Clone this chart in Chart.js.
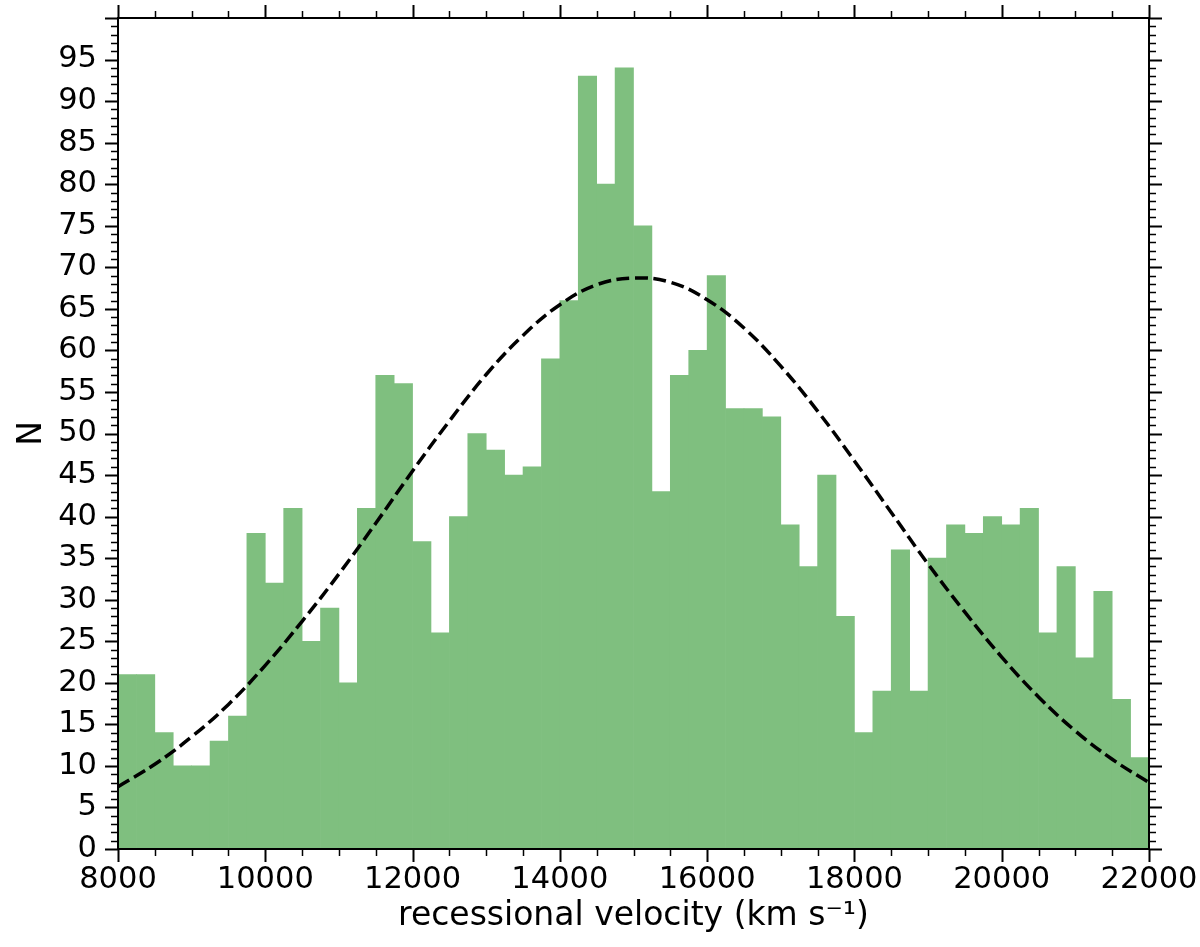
<!DOCTYPE html>
<html lang="en">
<head>
<meta charset="UTF-8">
<title>Recessional velocity histogram</title>
<script src="https://cdn.jsdelivr.net/npm/chart.js"></script>
<style>
  body { margin: 0; background: #fff; }
  #wrap { width: 1200px; height: 947px; }
</style>
</head>
<body>
<div id="wrap"><canvas id="histChart" width="1200" height="947"></canvas></div>
<script>
// bin centres (km/s), 250 km/s wide bins from 8000 to 22000
const binCentres = [
  8125, 8375, 8625, 8875, 9125, 9375, 9625, 9875,
  10125, 10375, 10625, 10875, 11125, 11375, 11625, 11875,
  12125, 12375, 12625, 12875, 13125, 13375, 13625, 13875,
  14125, 14375, 14625, 14875, 15125, 15375, 15625, 15875,
  16125, 16375, 16625, 16875, 17125, 17375, 17625, 17875,
  18125, 18375, 18625, 18875, 19125, 19375, 19625, 19875,
  20125, 20375, 20625, 20875, 21125, 21375, 21625, 21875
];
// counts per bin
const binCounts = [
  21, 21, 14, 10, 10, 13, 16, 38,
  32, 41, 25, 29, 20, 41, 57, 56,
  37, 26, 40, 50, 48, 45, 46, 59,
  66, 93, 80, 94, 75, 43, 57, 60,
  69, 53, 53, 52, 39, 34, 45, 28,
  14, 19, 36, 19, 35, 39, 38, 40,
  39, 41, 26, 34, 23, 31, 18, 11
];
// dashed fit curve
const curveVel = [
  8000, 8500, 9000, 9500, 10000, 10500, 11000, 11500, 12000, 12500,
  13000, 13500, 14000, 14500, 15000, 15500, 16000, 16500, 17000, 17500,
  18000, 18500, 19000, 19500, 20000, 20500, 21000, 21500, 22000
];
const curveN = [
  7.5, 10.2, 13.5, 17.4, 22.1, 27.4, 33.1, 39.2, 45.5, 51.5,
  57.1, 61.8, 65.5, 67.9, 68.7, 68.2, 66.1, 62.7, 58.1, 52.7,
  46.7, 40.5, 34.3, 28.5, 23.1, 18.3, 14.2, 10.8, 8.0
];
const xTickLabels = ['8000', '10000', '12000', '14000', '16000', '18000', '20000', '22000'];
const yTickLabels = ['0', '5', '10', '15', '20', '25', '30', '35', '40', '45',
                     '50', '55', '60', '65', '70', '75', '80', '85', '90', '95'];

const FONT = 'DejaVu Sans';

// matplotlib style frame + major/minor ticks on all four sides
const frameTicks = {
  id: 'frameTicks',
  afterDraw(chart) {
    const { ctx, chartArea: a } = chart;
    const xs = chart.scales.x, ys = chart.scales.y;
    ctx.save();
    ctx.strokeStyle = '#000';
    ctx.lineCap = 'butt';
    // x ticks every 500, major every 2000
    for (let v = 8000; v <= 22000; v += 500) {
      const px = Math.round(xs.getPixelForValue(v)) + 0.5;
      const major = v % 2000 === 0;
      const len = major ? 13 : 7;
      ctx.lineWidth = major ? 2 : 1.5;
      ctx.beginPath();
      ctx.moveTo(px, a.bottom); ctx.lineTo(px, a.bottom + len);
      ctx.moveTo(px, a.top); ctx.lineTo(px, a.top - len);
      ctx.stroke();
    }
    // y ticks every 1, major every 5
    for (let v = 0; v <= 100; v += 1) {
      const py = Math.round(ys.getPixelForValue(v)) + 0.5;
      const major = v % 5 === 0;
      const len = major ? 13 : 7;
      ctx.lineWidth = major ? 2 : 1.5;
      ctx.beginPath();
      ctx.moveTo(a.left, py); ctx.lineTo(a.left - len, py);
      ctx.moveTo(a.right, py); ctx.lineTo(a.right + len, py);
      ctx.stroke();
    }
    ctx.lineWidth = 2;
    ctx.strokeRect(a.left, a.top, a.right - a.left, a.bottom - a.top);
    ctx.restore();
  }
};

// grid kept "on" only so the tick length counts in label placement; the marks themselves come from the plugin
const hiddenGrid = { display: true, drawOnChartArea: false, drawTicks: true, tickLength: 13, tickColor: 'rgba(0,0,0,0)' };

const ctx = document.getElementById('histChart').getContext('2d');
const histChart = new Chart(ctx, {
  type: 'bar',
  data: {
    datasets: [
      {
        type: 'line',
        data: curveVel.map((v, i) => ({ x: v, y: curveN[i] })),
        borderColor: '#000',
        borderWidth: 3.5,
        borderDash: [13, 5.5],
        pointRadius: 0,
        tension: 0.4,
        fill: false,
        order: 0
      },
      {
        type: 'bar',
        data: binCentres.map((v, i) => ({ x: v, y: binCounts[i] })),
        backgroundColor: '#7fbf7f',
        borderWidth: 0,
        barPercentage: 1,
        categoryPercentage: 1,
        order: 1
      }
    ]
  },
  options: {
    responsive: false,
    animation: false,
    layout: { padding: { top: 18, right: 51, left: 0, bottom: 0 } },
    plugins: {
      legend: { display: false },
      tooltip: { enabled: false }
    },
    scales: {
      x: {
        type: 'linear',
        offset: false,
        min: 8000,
        max: 22000,
        grid: hiddenGrid,
        border: { display: false },
        ticks: {
          stepSize: 2000,
          padding: 0,
          color: '#000',
          maxRotation: 0,
          font: { family: FONT, size: 30.5 },
          callback: (v) => xTickLabels.includes(String(v)) ? String(v) : ''
        },
        title: {
          display: true,
          text: 'recessional velocity (km s\u207B\u00B9)',
          color: '#000',
          font: { family: FONT, size: 33 },
          padding: { top: 0, bottom: 11 }
        },
        afterFit: (s) => { s.height = 98; }
      },
      y: {
        min: 0,
        max: 100,
        grid: hiddenGrid,
        border: { display: false },
        ticks: {
          stepSize: 5,
          padding: 8,
          color: '#000',
          font: { family: FONT, size: 30.5 },
          callback: (v) => yTickLabels.includes(String(v)) ? String(v) : ''
        },
        title: {
          display: true,
          text: 'N',
          color: '#000',
          font: { family: FONT, size: 33 },
          padding: { top: 13, bottom: 0 }
        },
        afterFit: (s) => {
          s.width = 118;
          // don't let the label half-heights push the plot area down
          s.paddingTop = 0;
          s.paddingBottom = 0;
        }
      }
    }
  },
  plugins: [frameTicks]
});
</script>
</body>
</html>
